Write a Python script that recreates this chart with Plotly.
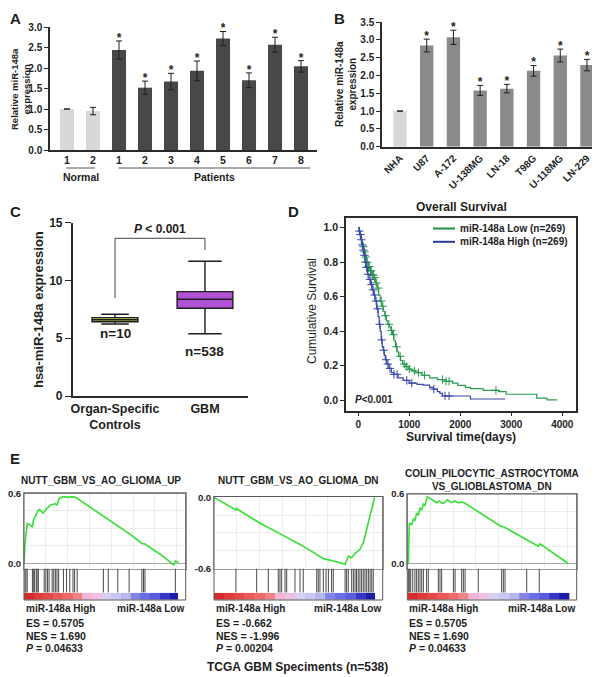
import plotly.graph_objects as go

# The page body adds an 8px margin, so the figure is drawn 8px in from the
# window's top-left corner; all layout positions below are window pixels.
OFF = 8
W, H = 600 - OFF, 677 - OFF
FONT = "Liberation Sans, Arial, Helvetica, sans-serif"
INK = "#1e1e1e"


def X(px):
    return (px - OFF) / W


def Y(py):
    return 1 - (py - OFF) / H


# ---------------- Panel A data ----------------
a_groups = ["Normal", "Normal", "Patients", "Patients", "Patients", "Patients",
            "Patients", "Patients", "Patients", "Patients"]
a_labels = ["1", "2", "1", "2", "3", "4", "5", "6", "7", "8"]
a_values = [1.00, 0.95, 2.44, 1.52, 1.67, 1.93, 2.72, 1.70, 2.57, 2.04]
a_errors = [None, 0.09, 0.22, 0.16, 0.20, 0.24, 0.17, 0.18, 0.18, 0.14]
a_signif = [False, False, True, True, True, True, True, True, True, True]

# ---------------- Panel B data ----------------
b_labels = ["NHA", "U87", "A-172", "U-138MG", "LN-18", "T98G", "U-118MG", "LN-229"]
b_values = [1.00, 2.84, 3.07, 1.58, 1.63, 2.13, 2.56, 2.29]
b_errors = [None, 0.18, 0.20, 0.14, 0.12, 0.15, 0.18, 0.16]
b_signif = [False, True, True, True, True, True, True, True]

# ---------------- Panel C data ----------------
c_labels = ["Organ-Specific<br>Controls", "GBM"]
c_lowerfence = [6.23, 5.39]
c_q1 = [6.43, 7.59]
c_median = [6.60, 8.37]
c_q3 = [6.78, 9.03]
c_upperfence = [7.07, 11.66]
c_n = ["n=10", "n=538"]

# ---------------- Panel D data (Kaplan-Meier) ----------------
km_low_t = [0, 15, 30, 50, 70, 90, 110, 135, 165, 195, 230, 270, 310, 340, 370, 400,
            430, 460, 490, 520, 550, 580, 610, 640, 670, 700, 730, 760, 790, 830, 870,
            920, 980, 1050, 1130, 1250, 1400, 1550, 1700, 1850, 1950, 2100, 2200, 2450,
            2750, 2900, 3500, 3700, 3900]
km_low_s = [1.0, 0.985, 0.965, 0.94, 0.91, 0.89, 0.86, 0.83, 0.80, 0.775, 0.75, 0.725,
            0.71, 0.68, 0.65, 0.61, 0.575, 0.545, 0.515, 0.49, 0.46, 0.44, 0.425, 0.405,
            0.38, 0.345, 0.31, 0.28, 0.255, 0.23, 0.21, 0.195, 0.18, 0.17, 0.16, 0.145,
            0.13, 0.12, 0.11, 0.10, 0.087, 0.075, 0.068, 0.058, 0.05, 0.035, 0.013,
            0.003, 0.003]
km_low_cens = [100, 125, 150, 175, 200, 215, 240, 255, 280, 295, 320, 355, 390, 450,
               480, 530, 600, 650, 690, 750, 820, 900, 950, 1000, 1100, 1180, 1300,
               1650, 1720, 1780, 2700]
km_high_t = [0, 15, 30, 50, 70, 90, 110, 130, 150, 180, 210, 240, 270, 300, 330, 360,
             390, 410, 430, 450, 470, 490, 510, 530, 560, 600, 650, 700, 780, 880, 1000,
             1150, 1270, 1400, 1470, 1550, 1600, 1650, 2200, 2880]
km_high_s = [1.0, 0.98, 0.96, 0.93, 0.90, 0.87, 0.84, 0.80, 0.77, 0.73, 0.70, 0.67,
             0.64, 0.61, 0.575, 0.53, 0.485, 0.44, 0.40, 0.35, 0.31, 0.29, 0.26, 0.235,
             0.21, 0.185, 0.16, 0.15, 0.13, 0.115, 0.10, 0.092, 0.088, 0.075, 0.065,
             0.05, 0.04, 0.025, 0.0075, 0.0075]
km_high_cens = [20, 40, 60, 80, 100, 120, 140, 160, 190, 230, 260, 290, 320, 350, 380,
                420, 460, 500, 545, 580, 620, 700, 760, 950, 1050, 1480, 1700, 1780]
km_names = ["miR-148a Low (n=269)", "miR-148a High (n=269)"]

# ---------------- Panel E data (GSEA running enrichment) ----------------
e_titles = ["NUTT_GBM_VS_AO_GLIOMA_UP", "NUTT_GBM_VS_AO_GLIOMA_DN",
            "COLIN_PILOCYTIC_ASTROCYTOMA<br>VS_GLIOBLASTOMA_DN"]
e_es = ["0.5705", "-0.662", "0.5705"]
e_nes = ["1.690", "-1.996", "1.690"]
e_p = ["0.04633", "0.00204", "0.04633"]

g1_x = [0, 0.6, 2.0, 3.6, 5.2, 5.9, 7.0, 8.5, 9.5, 11.9, 13.5, 16.4, 19.4, 20.4, 21.8,
        24.3, 27.3, 29.3, 31.9, 40, 50, 60, 66, 72.9, 74.8, 85, 92.6, 93.6, 95.6]
g1_y = [0.0, 0.17, 0.34, 0.33, 0.31, 0.377, 0.40, 0.45, 0.46, 0.43, 0.46, 0.50, 0.51,
        0.50, 0.557, 0.571, 0.565, 0.571, 0.565, 0.49, 0.39, 0.30, 0.245, 0.17, 0.165,
        0.07, -0.015, 0.02, 0.005]
g1_hits = [0.6, 1.2, 2.0, 5.2, 6.0, 6.6, 7.6, 8.1, 8.9, 12.5, 13.5, 14.5, 15.5, 17.4,
           18.4, 19.4, 20.4, 21.4, 24.4, 26.3, 28.3, 30.3, 31.3, 32.9, 49.1, 52.1, 58.0,
           65.0, 72.9, 73.9, 74.8, 93.6]

g2_x = [0, 13.0, 13.2, 25.3, 26.3, 38.1, 51.0, 59.9, 64.8, 70.8, 74.7, 77.7, 79.7, 81.6,
        83.6, 86.5, 88.5, 90.5, 92.5, 94.0, 95.2]
g2_y = [0.0, -0.106, -0.094, -0.197, -0.21, -0.30, -0.397, -0.472, -0.517, -0.536,
        -0.55, -0.564, -0.495, -0.51, -0.472, -0.44, -0.383, -0.272, -0.147, -0.064, 0.0]
g2_hits = [13.0, 25.3, 32.2, 38.1, 39.1, 40.1, 42.1, 43.1, 48.0, 51.0, 52.9, 60.9, 61.8,
           62.8, 64.8, 66.4, 67.8, 69.7, 70.7, 77.7, 78.6, 79.6, 81.6, 82.6, 83.6, 84.5,
           85.5, 86.5, 87.5, 88.5, 89.5, 90.5, 91.5, 92.5, 93.5, 94.4]

g3_x = [0, 0.6, 1.2, 2.6, 3.6, 4.5, 5.5, 6.5, 7.5, 8.5, 9.5, 10.5, 11.8, 17.3, 18.9,
        20.3, 22.0, 23.6, 26.2, 28.2, 30.1, 32.1, 34.1, 45, 54.7, 57.7, 69.5, 70.5, 77.3,
        78.3, 95.0]
g3_y = [0, 0, 0.349, 0.335, 0.383, 0.37, 0.434, 0.42, 0.477, 0.463, 0.514, 0.505, 0.577,
        0.525, 0.54, 0.52, 0.525, 0.55, 0.525, 0.54, 0.525, 0.53, 0.52, 0.42, 0.326,
        0.31, 0.212, 0.20, 0.149, 0.17, 0.0]
g3_hits = [0.6, 1.2, 2.0, 3.2, 4.5, 5.5, 6.5, 7.5, 8.5, 9.5, 11.4, 12.4, 18.3, 19.3,
           20.3, 27.2, 28.2, 32.1, 33.1, 34.1, 41.9, 55.7, 56.7, 57.7, 70.5, 77.9]

# ranked-list colour bar (rank bands)
cb_edges = [0, 6, 12, 18, 24, 30, 36, 42, 48, 54, 60, 66, 72, 78, 84, 90, 95.5]
cb_colors = ["#d42a2a", "#e03a3a", "#e54848", "#ea5858", "#ee6a6a", "#f08484",
             "#f2b4d8", "#efc0e2", "#d6d0f2", "#c8c8f2", "#b6b6f0", "#8484e8",
             "#6c6ce4", "#5a5adc", "#3636c8", "#1c1ca8"]

# ======================================================================
fig = go.Figure()
tick_font = dict(family=FONT, size=10, color=INK, weight="bold")
annotations = []
shapes = []


def ann(text, px, py, size, bold=True, xanchor="center", yanchor="middle", angle=0,
        color=INK):
    annotations.append(dict(
        text=text, x=X(px), y=Y(py), xref="paper", yref="paper", showarrow=False,
        xanchor=xanchor, yanchor=yanchor, textangle=angle,
        font=dict(family=FONT, size=size, color=color, weight="bold" if bold else "normal")))


# ---------------- Panel A ----------------
a_idx = list(range(len(a_labels)))
for grp, col in (("Normal", "#d8d8d8"), ("Patients", "#484848")):
    sel = [i for i in a_idx if a_groups[i] == grp]
    fig.add_trace(go.Bar(
        x=sel, y=[a_values[i] for i in sel], width=0.54, marker_color=col,
        error_y=dict(type="data", array=[a_errors[i] for i in sel], color=INK,
                     thickness=1, width=3),
        xaxis="x", yaxis="y", hoverinfo="skip", cliponaxis=False))
sig = [i for i in a_idx if a_signif[i]]
fig.add_trace(go.Scatter(
    x=sig, y=[a_values[i] + (a_errors[i] or 0) + 0.05 for i in sig],
    mode="text", text=["*"] * len(sig), textposition="middle center",
    textfont=dict(family=FONT, size=12, color=INK, weight="bold"), cliponaxis=False,
    xaxis="x", yaxis="y", hoverinfo="skip"))

# group underlines + labels
for grp in ("Normal", "Patients"):
    sel = [i for i in a_idx if a_groups[i] == grp]
    x0, x1 = min(sel) - 0.02, max(sel) + (0.08 if grp == "Normal" else 0.35)
    shapes.append(dict(type="line", xref="x", yref="paper", x0=x0, x1=x1,
                       y0=Y(168), y1=Y(168), line=dict(color="#555", width=1)))
    annotations.append(dict(text=grp, x=(x0 + x1) / 2, y=Y(177.5), xref="x", yref="paper",
                            showarrow=False, xanchor="center", yanchor="middle",
                            font=dict(family=FONT, size=10.5, color=INK, weight="bold")))

# ---------------- Panel B ----------------
b_idx = list(range(len(b_labels)))
for light, col in ((True, "#d8d8d8"), (False, "#8a8a8a")):
    sel = [i for i in b_idx if (not b_signif[i]) == light]
    fig.add_trace(go.Bar(
        x=sel, y=[b_values[i] for i in sel], width=0.5, marker_color=col,
        error_y=dict(type="data", array=[b_errors[i] for i in sel], color=INK,
                     thickness=1, width=3),
        xaxis="x2", yaxis="y2", hoverinfo="skip", cliponaxis=False))
sig = [i for i in b_idx if b_signif[i]]
fig.add_trace(go.Scatter(
    x=sig, y=[b_values[i] + (b_errors[i] or 0) + 0.06 for i in sig],
    mode="text", text=["*"] * len(sig), textposition="middle center",
    textfont=dict(family=FONT, size=12, color=INK, weight="bold"), cliponaxis=False,
    xaxis="x2", yaxis="y2", hoverinfo="skip"))

# ---------------- Panel C ----------------
c_fill = ["#c9c95a", "#b152d6"]
c_width = [0.51, 0.62]
for i in range(len(c_labels)):
    fig.add_trace(go.Box(
        x=[i], q1=[c_q1[i]], median=[c_median[i]], q3=[c_q3[i]],
        lowerfence=[c_lowerfence[i]], upperfence=[c_upperfence[i]],
        width=c_width[i], whiskerwidth=0.6, fillcolor=c_fill[i],
        line=dict(color=INK, width=1.4), boxpoints=False,
        xaxis="x3", yaxis="y3", hoverinfo="skip"))
    annotations.append(dict(text=c_n[i], x=i, y=c_lowerfence[i] - (0.85 if i == 0 else 1.55),
                            xref="x3", yref="y3", showarrow=False, xanchor="center",
                            yanchor="middle",
                            font=dict(family=FONT, size=13.5, color=INK, weight="bold")))
shapes.append(dict(type="path", xref="x3", yref="y3",
                   path="M 0 8.46 L 0 13.65 L 1 13.65 L 1 12.64",
                   line=dict(color="#444", width=1)))
annotations.append(dict(text="<i>P</i> < 0.001", x=0.5, y=14.45, xref="x3", yref="y3",
                        showarrow=False, xanchor="center", yanchor="middle",
                        font=dict(family=FONT, size=12, color=INK, weight="bold")))


# ---------------- Panel D ----------------
def step_at(ts, ss, t):
    v = ss[0]
    for tt, s in zip(ts, ss):
        if tt <= t:
            v = s
    return v


for ts, ss, cens, col in ((km_low_t, km_low_s, km_low_cens, "#2a9a50"),
                          (km_high_t, km_high_s, km_high_cens, "#3a48a8")):
    fig.add_trace(go.Scatter(x=ts, y=ss, mode="lines", line=dict(color=col, width=1.2,
                                                                   shape="hv"),
                             xaxis="x4", yaxis="y4", hoverinfo="skip"))
    fig.add_trace(go.Scatter(x=cens, y=[step_at(ts, ss, t) for t in cens], mode="markers",
                             marker=dict(symbol="cross-thin", size=6,
                                         line=dict(color=col, width=1)),
                             xaxis="x4", yaxis="y4", hoverinfo="skip"))

# legend (drawn manually)
for k, (name, col, py) in enumerate(((km_names[0], "#1f8f3f", 228.5),
                                     (km_names[1], "#2b3a9e", 241.8))):
    shapes.append(dict(type="line", xref="paper", yref="paper", x0=X(433), x1=X(455),
                       y0=Y(py), y1=Y(py), line=dict(color=col, width=2)))
    ann(name, 458, py, 10, xanchor="left")
ann("<i>P</i><0.001", 353, 400, 10, xanchor="left")

# ---------------- Panel E ----------------
frames = [(24.0, 185.7, 493.3), (214.0, 382.7, 496.5), (407.3, 576.7, 494.0)]
es_ranges = [(-0.045, 0.6), (-0.6, 0.007), (-0.043, 0.6)]
es_ticks = [[0, 0.6], [-0.6, 0.0], [0, 0.6]]
es_grid = [[0.15, 0.3, 0.45], [-0.15, -0.3, -0.45], [0.15, 0.3, 0.45]]
curves = [(g1_x, g1_y, g1_hits), (g2_x, g2_y, g2_hits), (g3_x, g3_y, g3_hits)]
ES_BOT, HIT_BOT, CB_BOT = 568.5, 592.7, 600.0

n_bands = len(cb_colors)
cscale = [[i / (n_bands - 1), c] for i, c in enumerate(cb_colors)]
axes = {}
for p in range(3):
    l, r, top = frames[p]
    gx, gy, hits = curves[p]
    n_es, n_hit, n_cb = 5 + 3 * p, 6 + 3 * p, 7 + 3 * p
    fig.add_trace(go.Scatter(x=gx, y=gy, mode="lines", line=dict(color="#33e033", width=1.6),
                             xaxis=f"x{n_es}", yaxis=f"y{n_es}", hoverinfo="skip"))
    hx, hy = [], []
    for h in hits:
        hx += [h, h, None]
        hy += [0, 1, None]
    fig.add_trace(go.Scatter(x=hx, y=hy, mode="lines", line=dict(color="#4a4a4a", width=1),
                             xaxis=f"x{n_hit}", yaxis=f"y{n_hit}", hoverinfo="skip"))
    fig.add_trace(go.Heatmap(x=cb_edges, y=[0, 1], z=[list(range(n_bands))],
                             colorscale=cscale, zmin=0, zmax=n_bands - 1, showscale=False,
                             xaxis=f"x{n_cb}", yaxis=f"y{n_cb}", hoverinfo="skip"))
    dom = [X(l), X(r)]
    lo, hi = es_ranges[p]
    axes[f"xaxis{n_es}"] = dict(domain=dom, range=[0, 100], anchor=f"y{n_es}",
                                showticklabels=False, ticks="", showgrid=True, dtick=13.5,
                                gridcolor="#ececec", zeroline=False, showline=True,
                                mirror=True, linecolor="#9a9a9a", linewidth=1)
    axes[f"yaxis{n_es}"] = dict(domain=[Y(ES_BOT), Y(top)], range=[lo, hi],
                                anchor=f"x{n_es}", tickvals=es_ticks[p],
                                ticktext=[f"{v:.1f}" for v in es_ticks[p]],
                                tickfont=dict(family=FONT, size=9.5, color=INK,
                                              weight="bold"),
                                ticks="", showgrid=False,
                                minor=dict(tickvals=es_grid[p], showgrid=True,
                                           gridcolor="#ececec", ticks=""),
                                zeroline=True, zerolinecolor="#a8a8a8", zerolinewidth=1,
                                showline=True, mirror=True, linecolor="#9a9a9a",
                                linewidth=1)
    axes[f"xaxis{n_hit}"] = dict(domain=dom, range=[0, 100], anchor=f"y{n_hit}",
                                 visible=False)
    axes[f"yaxis{n_hit}"] = dict(domain=[Y(HIT_BOT), Y(ES_BOT)], range=[0, 1],
                                 anchor=f"x{n_hit}", visible=False)
    axes[f"xaxis{n_cb}"] = dict(domain=dom, range=[0, 100], anchor=f"y{n_cb}",
                                visible=False)
    axes[f"yaxis{n_cb}"] = dict(domain=[Y(CB_BOT), Y(HIT_BOT)], range=[0, 1],
                                anchor=f"x{n_cb}", visible=False)
    shapes.append(dict(type="rect", xref="paper", yref="paper", x0=X(l), x1=X(r),
                       y0=Y(CB_BOT), y1=Y(top), line=dict(color="#5a5a5a", width=1)))
    # texts
    ann(e_titles[p], (l + r) / 2 if p != 0 else 101, 480 if p < 2 else 479.5, 10)
    ann("miR-148a High", l, 608.3, 10, xanchor="left")
    ann("miR-148a Low", r, 608.3, 10, xanchor="right")
    ann(f"ES = {e_es[p]}", l, 623.3, 10.5, xanchor="left")
    ann(f"NES = {e_nes[p]}", l, 635.7, 10.5, xanchor="left")
    ann(f"<i>P</i> = {e_p[p]}", l, 647.8, 10.5, xanchor="left")

ann("TCGA GBM Speciments (n=538)", 297, 667, 12)

# ---------------- titles / labels ----------------
ann("A", 8, 8, 15, xanchor="left", yanchor="top")
ann("B", 332, 8, 15, xanchor="left", yanchor="top")
ann("C", 8, 211, 15, xanchor="left")
ann("D", 286, 211, 15, xanchor="left")
ann("E", 8, 458, 15, xanchor="left")
ann("Relative miR-148a<br>expression", 20, 89, 9.5, angle=-90)
ann("Relative miR-148a<br>expression", 346, 84, 10, angle=-90)
ann("hsa-miR-148a expression", 38, 310, 13, angle=-90)
ann("Overall Survival", 461, 207, 12)
ann("Cumulative Survival", 312, 311, 12, bold=False, angle=-90)
ann("Survival time(days)", 461, 437, 12)

line_kw = dict(showline=True, linecolor="#2a2a2a", linewidth=1.5, showgrid=False,
               zeroline=False)

fig.update_layout(
    template="none",
    width=W, height=H, margin=dict(l=0, r=0, t=0, b=0, pad=0), autosize=False,
    paper_bgcolor="white", plot_bgcolor="white", showlegend=False,
    font=dict(family=FONT, color=INK),
    barmode="overlay",
    xaxis=dict(domain=[X(50), X(317)], range=[-0.654, 9.615], anchor="y",
               tickmode="array", tickvals=a_idx, ticktext=a_labels, ticks="",
               tickfont=dict(family=FONT, size=10.5, color=INK, weight="bold"), **line_kw),
    yaxis=dict(domain=[Y(150), Y(27)], range=[0, 3], anchor="x", dtick=0.5,
               tickformat=".1f", ticks="outside", ticklen=4, tickwidth=1.2,
               tickcolor="#2a2a2a", tickfont=tick_font, **line_kw),
    xaxis2=dict(domain=[X(382), X(599)], range=[-0.674, 7.45], anchor="y2",
                tickmode="array", tickvals=b_idx, ticktext=b_labels, ticks="",
                tickangle=-45, tickfont=tick_font, **line_kw),
    yaxis2=dict(domain=[Y(146.7), Y(22)], range=[0, 3.5], anchor="x2", dtick=0.5,
                tickformat=".1f", ticks="outside", ticklen=4, tickwidth=1.2,
                tickcolor="#2a2a2a", tickfont=tick_font, **line_kw),
    xaxis3=dict(domain=[X(72.7), X(248)], range=[-0.47, 1.478], anchor="y3",
                tickmode="array", tickvals=[0, 1], ticktext=c_labels, ticks="",
                tickfont=dict(family=FONT, size=12.5, color=INK, weight="bold"), **line_kw),
    yaxis3=dict(domain=[Y(396), Y(222.7)], range=[0, 15], anchor="x3", dtick=5,
                ticks="outside", ticklen=6, tickwidth=1.4, tickcolor="#2a2a2a",
                tickfont=dict(family=FONT, size=12, color=INK, weight="bold"), **line_kw),
    xaxis4=dict(domain=[X(346), X(576)], range=[-241, 4269], anchor="y4", dtick=1000,
                ticks="outside", ticklen=3, tickcolor="#2a2a2a", mirror=True,
                tickfont=tick_font, **line_kw),
    yaxis4=dict(domain=[Y(411), Y(218)], range=[-0.062, 1.056], anchor="x4", dtick=0.2,
                tickformat=".1f", ticks="outside", ticklen=4, tickcolor="#2a2a2a",
                mirror=True, tickfont=dict(family=FONT, size=10.5, color=INK,
                                           weight="bold"), **line_kw),
    annotations=annotations, shapes=shapes,
)
fig.update_layout(**axes)
fig.update_xaxes(automargin=False)
fig.update_yaxes(automargin=False)

fig.write_html("out.html")
